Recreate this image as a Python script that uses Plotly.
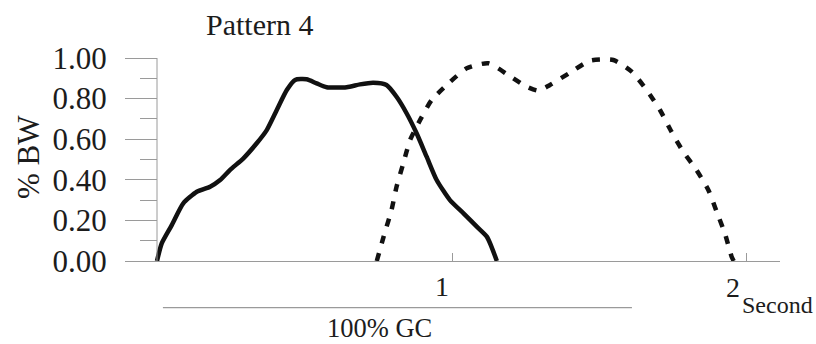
import plotly.graph_objects as go

# ---- data (seconds, fraction of BW) ----
solid_x = [0.0, 0.016, 0.05, 0.089, 0.135, 0.18, 0.214, 0.247, 0.293, 0.338, 0.372,
           0.406, 0.44, 0.468, 0.507, 0.541, 0.575, 0.643, 0.688, 0.733, 0.778,
           0.812, 0.846, 0.88, 0.914, 0.948, 0.993, 1.039, 1.084, 1.118, 1.134, 1.152]
solid_y = [0.0, 0.087, 0.177, 0.284, 0.341, 0.366, 0.399, 0.448, 0.506, 0.58, 0.645,
           0.744, 0.842, 0.892, 0.895, 0.875, 0.856, 0.856, 0.87, 0.878, 0.867,
           0.809, 0.728, 0.629, 0.514, 0.399, 0.3, 0.235, 0.169, 0.12, 0.07, 0.0]

dash_x = [0.745, 0.773, 0.795, 0.812, 0.835, 0.858, 0.892, 0.931, 0.988, 1.05, 1.123,
          1.191, 1.253, 1.293, 1.332, 1.4, 1.468, 1.547, 1.609, 1.66, 1.705, 1.744,
          1.784, 1.829, 1.869, 1.897, 1.925, 1.948, 1.955]
dash_y = [0.0, 0.144, 0.251, 0.366, 0.481, 0.596, 0.695, 0.793, 0.875, 0.949, 0.974,
          0.916, 0.859, 0.839, 0.867, 0.928, 0.987, 0.99, 0.933, 0.842, 0.744, 0.637,
          0.538, 0.448, 0.35, 0.243, 0.136, 0.021, 0.0]

y_major = [0.0, 0.2, 0.4, 0.6, 0.8, 1.0]
y_minor = [0.1, 0.3, 0.5, 0.7, 0.9]
x_ticks = [1, 2]
x_ticklabels = ["1", "2"]
gc_span = [0.02, 1.61]

FONT = "Liberation Serif, Times New Roman, serif"
TXT = "#1c1c1c"
AX = "#9a9a9a"

fig = go.Figure()
fig.add_trace(go.Scatter(x=solid_x, y=solid_y, mode="lines",
                         line=dict(color="#111111", width=4.5, shape="spline", smoothing=0.6),
                         showlegend=False, hoverinfo="skip"))
fig.add_trace(go.Scatter(x=dash_x, y=dash_y, mode="lines",
                         line=dict(color="#111111", width=4.5, dash="8px,10px",
                                   shape="spline", smoothing=0.6),
                         showlegend=False, hoverinfo="skip"))

L, R, T, B = 125, 36, 48, 79
W, H = 816, 344
plot_w = W - L - R
plot_h = H - T - B
px_per_y = 203.0
y_lo = -4 / px_per_y
y_hi = y_lo + plot_h / px_per_y
x_lo, x_hi = -0.1085, 2.1119

fig.update_layout(
    width=W, height=H,
    margin=dict(l=L, r=R, t=T, b=B, pad=0),
    paper_bgcolor="white", plot_bgcolor="white",
    font=dict(family=FONT, color=TXT, size=28),
    xaxis=dict(range=[x_lo, x_hi], anchor="free", position=4 / plot_h,
               showline=True, linecolor=AX, linewidth=1,
               tickvals=x_ticks, ticks="inside", ticklen=8, tickcolor=AX,
               showticklabels=False, showgrid=False, zeroline=False),
    yaxis=dict(range=[y_lo, y_hi], anchor="free",
               position=(0 - x_lo) / (x_hi - x_lo),
               showline=False, showgrid=False, zeroline=False,
               tickvals=y_major, tickformat=".2f", ticks="outside", ticklen=32,
               tickcolor=AX, tickwidth=1, ticklabelstandoff=12,
               tickfont=dict(family=FONT, size=31, color=TXT),
               minor=dict(tickvals=y_minor, ticks="outside", ticklen=17,
                          tickcolor=AX, tickwidth=1, showgrid=False)),
)

# y-axis spine from 0 to 1
fig.add_shape(type="line", xref="x", yref="y", x0=0, x1=0, y0=y_major[0], y1=y_major[-1],
              line=dict(color=AX, width=1))
# 100% GC bar
fig.add_shape(type="line", xref="x", yref="paper", x0=gc_span[0], x1=gc_span[1],
              y0=(H - B - 307.7) / plot_h, y1=(H - B - 307.7) / plot_h,
              line=dict(color=AX, width=1.2))

def paper_y(py):
    return (H - B - py) / plot_h

def paper_x(px):
    return (px - L) / plot_w

ann = [
    dict(text="Pattern 4", x=paper_x(259), y=paper_y(25), xref="paper", yref="paper",
         font=dict(size=30, family=FONT, color=TXT)),
    dict(text="% BW", x=paper_x(28), y=paper_y(157), xref="paper", yref="paper", textangle=-90,
         font=dict(size=31, family=FONT, color=TXT)),
    dict(text="100% GC", x=sum(gc_span) / 2 - 0.061, y=paper_y(328), xref="x", yref="paper",
         font=dict(size=26.5, family=FONT, color=TXT)),
    dict(text=x_ticklabels[0], x=x_ticks[0], xshift=-10, y=paper_y(286), xref="x", yref="paper"),
    dict(text=x_ticklabels[1], x=x_ticks[1], xshift=-14, y=paper_y(287), xref="x", yref="paper"),
    dict(text="Second", x=x_ticks[1], xshift=31, y=paper_y(305), xref="x", yref="paper",
         font=dict(size=24, family=FONT, color=TXT)),
]
for a in ann:
    a.setdefault("font", dict(size=28, family=FONT, color=TXT))
    fig.add_annotation(showarrow=False, xanchor="center", yanchor="middle", **a)

fig.write_html("out.html")
